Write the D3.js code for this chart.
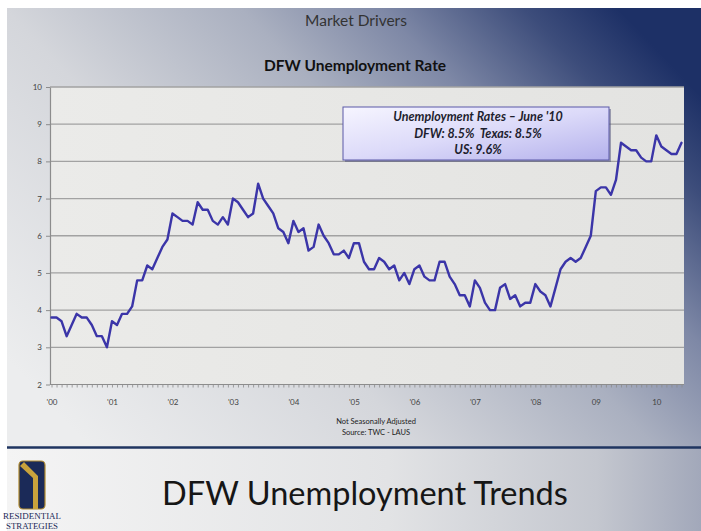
<!DOCTYPE html>
<html>
<head>
<meta charset="utf-8">
<script src="https://cdn.jsdelivr.net/npm/d3@7"></script>
<style>
  html, body { margin: 0; padding: 0; background: #ffffff; }
  svg { display: block; }
</style>
</head>
<body>
<svg id="chart" width="701" height="531"></svg>
<script>
// ---- data ----
const yearLabels = ["'00", "'01", "'02", "'03", "'04", "'05", "'06", "'07", "'08", "09", "10"];
const monthsPerYear = 12;
const yTickValues = [2, 3, 4, 5, 6, 7, 8, 9, 10];
// DFW unemployment rate, monthly, Jan 2000 - Jun 2010 (not seasonally adjusted)
const dfwRate = [
  3.8, 3.8, 3.7, 3.3, 3.6, 3.9, 3.8, 3.8, 3.6, 3.3, 3.3, 3.0,   // 2000
  3.7, 3.6, 3.9, 3.9, 4.1, 4.8, 4.8, 5.2, 5.1, 5.4, 5.7, 5.9,   // 2001
  6.6, 6.5, 6.4, 6.4, 6.3, 6.9, 6.7, 6.7, 6.4, 6.3, 6.5, 6.3,   // 2002
  7.0, 6.9, 6.7, 6.5, 6.6, 7.4, 7.0, 6.8, 6.6, 6.2, 6.1, 5.8,   // 2003
  6.4, 6.1, 6.2, 5.6, 5.7, 6.3, 6.0, 5.8, 5.5, 5.5, 5.6, 5.4,   // 2004
  5.8, 5.8, 5.3, 5.1, 5.1, 5.4, 5.3, 5.1, 5.2, 4.8, 5.0, 4.7,   // 2005
  5.1, 5.2, 4.9, 4.8, 4.8, 5.3, 5.3, 4.9, 4.7, 4.4, 4.4, 4.1,   // 2006
  4.8, 4.6, 4.2, 4.0, 4.0, 4.6, 4.7, 4.3, 4.4, 4.1, 4.2, 4.2,   // 2007
  4.7, 4.5, 4.4, 4.1, 4.6, 5.1, 5.3, 5.4, 5.3, 5.4, 5.7, 6.0,   // 2008
  7.2, 7.3, 7.3, 7.1, 7.5, 8.5, 8.4, 8.3, 8.3, 8.1, 8.0, 8.0,   // 2009
  8.7, 8.4, 8.3, 8.2, 8.2, 8.5                                  // 2010
];
const slideTitle = "Market Drivers";
const chartTitle = "DFW Unemployment Rate";
const calloutLines = ["Unemployment Rates \u2013 June '10", "DFW: 8.5%  Texas: 8.5%", "US: 9.6%"];
const footnotes = ["Not Seasonally Adjusted", "Source: TWC - LAUS"];
const pageTitle = "DFW Unemployment Trends";
const logoLines = ["RESIDENTIAL", "STRATEGIES"];

// ---- drawing ----
const svg = d3.select("#chart");
const defs = svg.append("defs");

const bg = defs.append("linearGradient").attr("id", "bgGrad")
  .attr("x1", 0).attr("y1", 0.8).attr("x2", 1).attr("y2", 0.2);
[[0, "#ecedee"], [0.35, "#d4d6db"], [0.6, "#aab0c0"], [0.75, "#7e88a6"], [0.9, "#3d4d7b"], [1, "#1d3066"]]
  .forEach(([o, c]) => bg.append("stop").attr("offset", o).attr("stop-color", c));

const foot = defs.append("linearGradient").attr("id", "footGrad")
  .attr("x1", 0).attr("y1", 0).attr("x2", 1).attr("y2", 0);
[[0, "#f4f4f4"], [0.55, "#e2e3e5"], [0.85, "#c4c7cf"], [1, "#a2a8ba"]]
  .forEach(([o, c]) => foot.append("stop").attr("offset", o).attr("stop-color", c));

const box = defs.append("linearGradient").attr("id", "boxGrad")
  .attr("x1", 0).attr("y1", 0).attr("x2", 1).attr("y2", 1);
[[0, "#f6f5ff"], [0.5, "#dcdaf9"], [1, "#b4b1ec"]]
  .forEach(([o, c]) => box.append("stop").attr("offset", o).attr("stop-color", c));

const plotGrad = defs.append("linearGradient").attr("id", "plotGrad")
  .attr("x1", 0).attr("y1", 0).attr("x2", 1).attr("y2", 0);
[[0, "#ebebe9"], [1, "#e3e3e1"]]
  .forEach(([o, c]) => plotGrad.append("stop").attr("offset", o).attr("stop-color", c));

// slide background
svg.append("rect").attr("x", 7).attr("y", 8).attr("width", 694).attr("height", 440).attr("fill", "url(#bgGrad)");
svg.append("rect").attr("x", 7).attr("y", 448).attr("width", 694).attr("height", 83).attr("fill", "url(#footGrad)");
svg.append("line").attr("x1", 7).attr("x2", 701).attr("y1", 447.5).attr("y2", 447.5)
  .attr("stroke", "#1f3560").attr("stroke-width", 2.5);

const font = "Lato, 'Open Sans', sans-serif";

svg.append("text").attr("x", 356).attr("y", 26).attr("text-anchor", "middle")
  .attr("font-family", font).attr("font-size", 15.5).attr("fill", "#333333").text(slideTitle);
svg.append("text").attr("x", 355).attr("y", 71).attr("text-anchor", "middle")
  .attr("font-family", font).attr("font-weight", "bold").attr("font-size", 15.5).attr("fill", "#111111").text(chartTitle);

// scales
const x = d3.scaleLinear().domain([0, dfwRate.length - 1]).range([51.5, 681.5]);
const y = d3.scaleLinear().domain([d3.min(yTickValues), d3.max(yTickValues)]).range([384.5, 87]);
const plotL = 50, plotR = 684;

// plot area
svg.append("rect").attr("x", plotL).attr("y", y(10)).attr("width", plotR - plotL)
  .attr("height", y(2) - y(10)).attr("fill", "url(#plotGrad)");

// gridlines
svg.append("g").selectAll("line").data(yTickValues.filter(v => v > 2)).join("line")
  .attr("x1", plotL).attr("x2", plotR).attr("y1", d => y(d)).attr("y2", d => y(d))
  .attr("stroke", "#a2a2a2").attr("stroke-width", 1.3);

// y axis
const yAxis = svg.append("g").attr("transform", `translate(${plotL},0)`)
  .call(d3.axisLeft(y).tickValues(yTickValues).tickFormat(d3.format("d")).tickSize(4).tickSizeOuter(0).tickPadding(4));
yAxis.select(".domain").attr("stroke", "#8c8c8c").attr("stroke-width", 1.2);
yAxis.selectAll(".tick line").attr("stroke", "#8c8c8c");
yAxis.selectAll("text").attr("font-family", font).attr("font-size", 8).attr("fill", "#444444");

// x axis: monthly minor ticks
const xTicks = svg.append("g").attr("transform", `translate(0,${y(2)})`)
  .call(d3.axisBottom(x).tickValues(d3.range(dfwRate.length)).tickSize(3).tickSizeOuter(0).tickFormat(""));
xTicks.select(".domain").remove();
xTicks.selectAll(".tick line").attr("stroke", "#8c8c8c").attr("stroke-width", 0.8);
svg.append("line").attr("x1", plotL).attr("x2", plotR).attr("y1", y(2)).attr("y2", y(2))
  .attr("stroke", "#8c8c8c").attr("stroke-width", 1.2);

// x axis: year labels
const xLab = svg.append("g").attr("transform", `translate(0,${y(2)})`)
  .call(d3.axisBottom(x).tickValues(yearLabels.map((d, i) => i * monthsPerYear))
    .tickFormat(v => yearLabels[v / monthsPerYear]).tickSize(0).tickPadding(15));
xLab.select(".domain").remove();
xLab.selectAll("text").attr("font-family", font).attr("font-size", 8).attr("fill", "#444444");

// line
svg.append("path").datum(dfwRate)
  .attr("d", d3.line().x((d, i) => x(i)).y(d => y(d)))
  .attr("fill", "none").attr("stroke", "#3b35a8").attr("stroke-width", 2.4)
  .attr("stroke-linejoin", "round").attr("stroke-linecap", "round");

// callout box
svg.append("rect").attr("x", 345).attr("y", 109).attr("width", 266).attr("height", 53)
  .attr("fill", "#4d5078").attr("opacity", 0.5);
svg.append("rect").attr("x", 343).attr("y", 107).attr("width", 266).attr("height", 53)
  .attr("fill", "url(#boxGrad)").attr("stroke", "#5a58a8").attr("stroke-width", 1);
const cy = [121, 138, 154];
calloutLines.forEach((t, i) => {
  svg.append("text").attr("x", 478).attr("y", cy[i]).attr("text-anchor", "middle")
    .attr("font-family", font).attr("font-style", "italic")
    .attr("font-weight", "bold")
    .attr("font-size", 12.5).attr("fill", "#1e1e2e")
    .attr("xml:space", "preserve").style("white-space", "pre").text(t);
});

// footnotes
footnotes.forEach((t, i) => {
  svg.append("text").attr("x", 376).attr("y", 424 + i * 11).attr("text-anchor", "middle")
    .attr("font-family", font).attr("font-size", 7.5).attr("fill", "#222222").text(t);
});

// page title
svg.append("text").attr("x", 365).attr("y", 505).attr("text-anchor", "middle")
  .attr("font-family", font).attr("font-size", 32.5).attr("fill", "#161616").text(pageTitle);

// logo
const logo = svg.append("g");
logo.append("rect").attr("x", 19).attr("y", 461).attr("width", 26).attr("height", 48).attr("rx", 4)
  .attr("fill", "#1b2a58").attr("stroke", "#b08a2e").attr("stroke-width", 1.2);
logo.append("path").attr("d", "M20,466 L33,478 L33,509 L38,509 L38,476 L24,462 Z")
  .attr("fill", "#c9a23c");
logoLines.forEach((t, i) => {
  logo.append("text").attr("x", 32).attr("y", 519 + i * 10).attr("text-anchor", "middle")
    .attr("font-family", "'Liberation Serif', 'DejaVu Serif', serif").attr("font-size", 9)
    .attr("fill", "#1b2a58").attr("textLength", i === 0 ? 58 : 52).attr("lengthAdjust", "spacingAndGlyphs").text(t);
});
</script>
</body>
</html>
